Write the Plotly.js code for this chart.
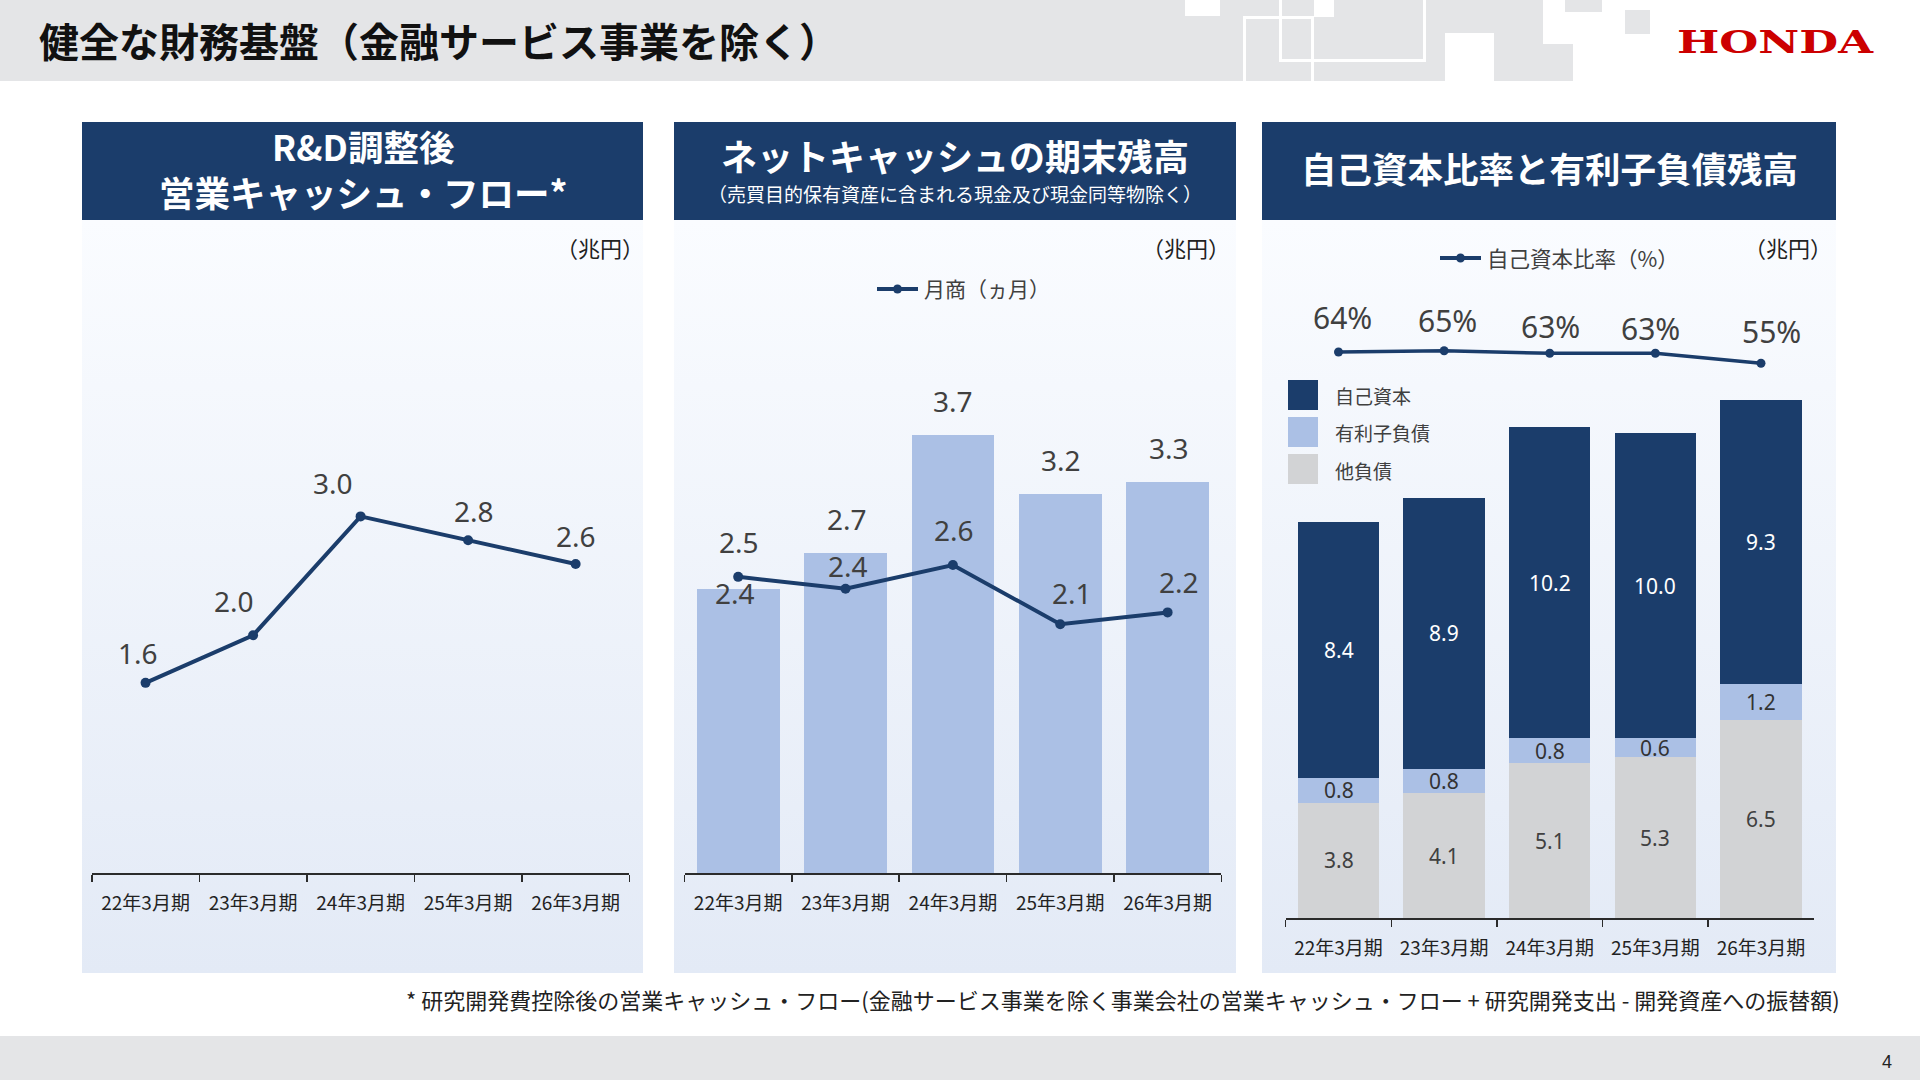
<!DOCTYPE html>
<html lang="ja">
<head>
<meta charset="utf-8">
<title>健全な財務基盤（金融サービス事業を除く）</title>
<script src="https://cdn.plot.ly/plotly-3.0.1.min.js"></script>
<style>
html, body { margin: 0; padding: 0; background: #ffffff; }
#chart { width: 1920px; height: 1080px; }
</style>
</head>
<body>
<div id="chart"></div>
<script>
// ---- data (兆円 unless noted) ----
const periods = ['22年3月期', '23年3月期', '24年3月期', '25年3月期', '26年3月期'];
const adjOperatingCF = [1.6, 2.0, 3.0, 2.8, 2.6];      // R&D調整後 営業キャッシュ・フロー
const netCash = [2.4, 2.7, 3.7, 3.2, 3.3];             // ネットキャッシュの期末残高
const monthsOfSales = [2.5, 2.4, 2.6, 2.1, 2.2];       // 月商（ヵ月）
const otherLiabilities = [3.8, 4.1, 5.1, 5.3, 6.5];    // 他負債
const interestDebt = [0.8, 0.8, 0.8, 0.6, 1.2];        // 有利子負債
const equity = [8.4, 8.9, 10.2, 10.0, 9.3];            // 自己資本
const equityRatio = [64, 65, 63, 63, 55];              // 自己資本比率（%）

// ---- styling ----
const W = 1920, H = 1080;
const NAVY = '#1b3d6b';
const LIGHT = '#abc0e5';
const GREY = '#d2d3d5';
const BAND = '#e4e5e7';
const JP = '"Noto Sans CJK JP", "Noto Sans", sans-serif';
const NUM = '"Noto Sans", "Open Sans", sans-serif';
const LABEL_INK = '#404040';

const fx = p => p / W;          // page pixel -> paper x
const fy = p => 1 - p / H;      // page pixel -> paper y

// label nudges in pixels [dx, dy] (dy positive = up)
const cfNudge = [[-8, 30], [-19, 34], [-28, 33], [6, 29], [0, 28]];
const cashNudge = [[-3, -4], [1, 34], [0, 34], [1, 34], [1, 34]];
const monthNudge = [[1, 35], [2, 23], [1, 35], [12, 31], [11, 30]];
const ratioNudge = [[4, 34], [3, 30], [1, 27], [-5, 25], [11, 32]];

// ---- page furniture drawn in page pixel space (x / y axes) ----
const panels = [
  { x0: 82, x1: 643 },
  { x0: 674, x1: 1236 },
  { x0: 1262, x1: 1836 }
];
const HEAD_TOP = 122, HEAD_BOTTOM = 220, BODY_BOTTOM = 973;

const traces = [];

panels.forEach(p => {
  traces.push({
    type: 'scatter', xaxis: 'x', yaxis: 'y',
    x: [p.x0, p.x1, p.x1, p.x0, p.x0],
    y: [HEAD_BOTTOM, HEAD_BOTTOM, BODY_BOTTOM, BODY_BOTTOM, HEAD_BOTTOM],
    mode: 'lines', line: { width: 0 }, fill: 'toself',
    fillcolor: '#eef3fa',
    fillgradient: {
      type: 'vertical', start: HEAD_BOTTOM, stop: BODY_BOTTOM,
      colorscale: [[0, '#fafcff'], [1, '#e3eaf6']]
    },
    hoverinfo: 'skip', showlegend: false
  });
});

// panel 1: adjusted operating cash flow
traces.push({
  type: 'scatter', xaxis: 'x2', yaxis: 'y2',
  x: periods, y: adjOperatingCF, mode: 'lines+markers',
  line: { color: NAVY, width: 4 }, marker: { color: NAVY, size: 10 },
  hoverinfo: 'skip', cliponaxis: false
});

// panel 2: net cash bars + months of sales line
traces.push({
  type: 'bar', xaxis: 'x3', yaxis: 'y3',
  x: periods, y: netCash, width: 0.77,
  marker: { color: LIGHT }, hoverinfo: 'skip'
});
traces.push({
  type: 'scatter', xaxis: 'x3', yaxis: 'y3',
  x: periods, y: monthsOfSales, mode: 'lines+markers',
  line: { color: NAVY, width: 4 }, marker: { color: NAVY, size: 10 },
  hoverinfo: 'skip', cliponaxis: false
});

// panel 3: stacked balance + equity ratio
[[otherLiabilities, GREY], [interestDebt, LIGHT], [equity, NAVY]].forEach(([vals, col]) => {
  traces.push({
    type: 'bar', xaxis: 'x4', yaxis: 'y4',
    x: periods, y: vals, width: 0.77,
    marker: { color: col }, hoverinfo: 'skip'
  });
});
traces.push({
  type: 'scatter', xaxis: 'x4', yaxis: 'y5',
  x: periods, y: equityRatio, mode: 'lines+markers',
  line: { color: NAVY, width: 3.5 }, marker: { color: NAVY, size: 9 },
  hoverinfo: 'skip', cliponaxis: false
});

// ---- axes ----
const catAxis = (x0, x1, anchor) => ({
  domain: [fx(x0), fx(x1)], anchor: anchor, type: 'category',
  range: [-0.5, 4.5], fixedrange: true,
  showline: true, linecolor: '#2b2b2b', linewidth: 2,
  ticks: 'outside', tickson: 'boundaries', ticklen: 7, tickwidth: 1.5, tickcolor: '#2b2b2b',
  ticklabelstandoff: 12,
  tickfont: { family: JP, size: 19, color: '#222222' },
  showgrid: false, zeroline: false
});
const valAxis = (zeroPx, topPx, range, anchor) => ({
  domain: [fy(zeroPx), fy(topPx)], range: range, anchor: anchor,
  visible: false, fixedrange: true
});

// ---- shapes ----
const shapes = [];
const rect = (x0, y0, x1, y1, color) => shapes.push({
  type: 'rect', xref: 'x', yref: 'y', x0, y0, x1, y1,
  fillcolor: color, line: { width: 0 }, layer: 'above'
});

// top band and its block pattern
[
  [0, 0, 1573, 81, BAND],
  [1185, 0, 1220, 16, '#fff'],
  [1314, 0, 1334, 17, '#fff'],
  [1445, 33, 1494, 81, '#fff'],
  [1543, 0, 1573, 44, '#fff'],
  [1243, 16, 1246, 81, '#fff'],
  [1279, 0, 1282, 60, '#fff'],
  [1311, 17, 1314, 81, '#fff'],
  [1423, 0, 1426, 60, '#fff'],
  [1243, 16, 1314, 19, '#fff'],
  [1279, 59, 1426, 62, '#fff'],
  [1565, 0, 1602, 12, BAND],
  [1625, 10, 1650, 34, BAND]
].forEach(r => rect(...r));

// bottom band
rect(0, 1036, 1920, 1080, BAND);

// panel headers
panels.forEach(p => rect(p.x0, HEAD_TOP, p.x1, HEAD_BOTTOM, NAVY));

// stacked legend swatches
rect(1288, 380, 1318, 410, NAVY);
rect(1288, 417, 1318, 447, LIGHT);
rect(1288, 454, 1318, 484, GREY);

// line legend keys
const lineKey = (xa, xb, y) => {
  shapes.push({ type: 'line', xref: 'x', yref: 'y', x0: xa, x1: xb, y0: y, y1: y,
    line: { color: NAVY, width: 4 }, layer: 'above' });
  const c = (xa + xb) / 2, r = 4.5;
  shapes.push({ type: 'circle', xref: 'x', yref: 'y', x0: c - r, x1: c + r, y0: y - r, y1: y + r,
    fillcolor: NAVY, line: { width: 0 }, layer: 'above' });
};
lineKey(877, 918, 289);
lineKey(1440, 1481, 258);

// ---- annotations ----
const ann = [];
const pageText = (x, y, text, size, opts = {}) => ann.push(Object.assign({
  xref: 'x', yref: 'y', x, y, text, showarrow: false,
  font: { family: JP, size, color: '#222222' }
}, opts));

pageText(37, 40, '健全な財務基盤（金融サービス事業を除く）', 40,
  { xanchor: 'left', font: { family: JP, size: 40, color: '#111111', weight: 700 } });
pageText(1775, 42, 'HONDA', 32,
  { font: { family: '"DejaVu Serif", "Liberation Serif", serif', size: 32, color: '#cc0000', weight: 700 } });
const hondaIndex = ann.length - 1;

const headFont = size => ({ family: JP, size, color: '#ffffff', weight: 700 });
pageText(363, 168, 'R&D調整後<br>営業キャッシュ・フロー*', 35.5, { font: headFont(35.5) });
pageText(955, 155, 'ネットキャッシュの期末残高', 36, { font: headFont(36) });
pageText(955, 193, '（売買目的保有資産に含まれる現金及び現金同等物除く）', 19,
  { font: { family: JP, size: 19, color: '#ffffff' } });
pageText(1549, 167, '自己資本比率と有利子負債残高', 35.5, { font: headFont(35.5) });

pageText(646, 247, '（兆円）', 22, { xanchor: 'right' });
pageText(1232, 247, '（兆円）', 22, { xanchor: 'right' });
pageText(1834, 247, '（兆円）', 22, { xanchor: 'right' });

const legendFont = size => ({ family: JP, size, color: LABEL_INK });
pageText(922, 288, '月商（ヵ月）', 21, { xanchor: 'left', font: legendFont(21) });
pageText(1485, 257, '自己資本比率（%）', 21.5, { xanchor: 'left', font: legendFont(21.5) });
pageText(1333, 395, '自己資本', 19, { xanchor: 'left', font: legendFont(19) });
pageText(1333, 432, '有利子負債', 19, { xanchor: 'left', font: legendFont(19) });
pageText(1333, 470, '他負債', 19, { xanchor: 'left', font: legendFont(19) });

pageText(1842, 999,
  '* 研究開発費控除後の営業キャッシュ・フロー(金融サービス事業を除く事業会社の営業キャッシュ・フロー + 研究開発支出 - 開発資産への振替額)',
  22, { xanchor: 'right' });
pageText(1887, 1062, '4', 18,
  { font: { family: '"Liberation Sans", Arial, sans-serif', size: 18, color: '#222222' } });

// value labels
const valueLabel = (xr, yr, x, y, text, nudge, size, color) => ann.push({
  xref: xr, yref: yr, x, y, text, showarrow: false,
  xshift: nudge[0], yshift: nudge[1],
  font: { family: NUM, size, color }
});

periods.forEach((p, i) => {
  valueLabel('x2', 'y2', p, adjOperatingCF[i], adjOperatingCF[i].toFixed(1), cfNudge[i], 28, LABEL_INK);
  valueLabel('x3', 'y3', p, netCash[i], netCash[i].toFixed(1), cashNudge[i], 28, LABEL_INK);
  valueLabel('x3', 'y3', p, monthsOfSales[i], monthsOfSales[i].toFixed(1), monthNudge[i], 28, LABEL_INK);
  valueLabel('x4', 'y5', p, equityRatio[i], equityRatio[i] + '%', ratioNudge[i], 30, LABEL_INK);

  const o = otherLiabilities[i], d = interestDebt[i], e = equity[i];
  valueLabel('x4', 'y4', p, o / 2, o.toFixed(1), [0, 0], 21, LABEL_INK);
  valueLabel('x4', 'y4', p, o + d / 2, d.toFixed(1), [0, 0], 21, '#333333');
  valueLabel('x4', 'y4', p, o + d + e / 2, e.toFixed(1), [0, 0], 21, '#ffffff');
});

const layout = {
  width: W, height: H,
  margin: { l: 0, r: 0, t: 0, b: 0, pad: 0 },
  paper_bgcolor: '#ffffff', plot_bgcolor: 'rgba(0,0,0,0)',
  showlegend: false, barmode: 'stack', hovermode: false,
  xaxis: { domain: [0, 1], range: [0, W], visible: false, fixedrange: true, anchor: 'y' },
  yaxis: { domain: [0, 1], range: [H, 0], visible: false, fixedrange: true, anchor: 'x' },
  xaxis2: catAxis(91.8, 629.4, 'y2'),
  yaxis2: valAxis(873.1, 278.6, [0, 5], 'x2'),
  xaxis3: catAxis(684.5, 1221.3, 'y3'),
  yaxis3: valAxis(873.1, 280.6, [0, 5], 'x3'),
  xaxis4: catAxis(1285.7, 1813.8, 'y4'),
  yaxis4: valAxis(918.4, 308.4, [0, 20], 'x4'),
  yaxis5: valAxis(432, 307, [0, 100], 'x4'),
  shapes: shapes,
  annotations: ann
};

Plotly.newPlot('chart', traces, layout, { staticPlot: true, displayModeBar: false }).then(gd => {
  // stretch the wordmark to its full width
  const t = gd.querySelector('.annotation[data-index="' + hondaIndex + '"] text');
  if (t) {
    t.setAttribute('textLength', '196');
    t.setAttribute('lengthAdjust', 'spacingAndGlyphs');
  }
});
</script>
</body>
</html>
